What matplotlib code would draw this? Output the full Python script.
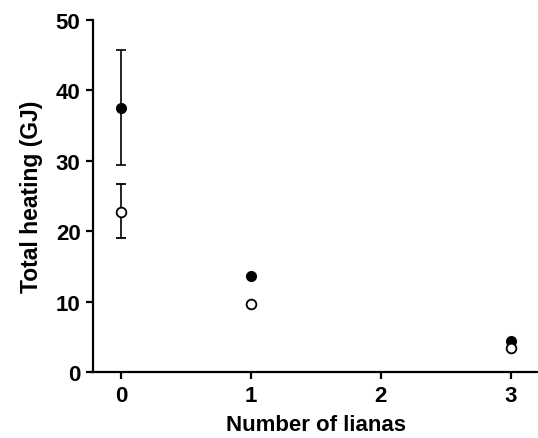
import matplotlib
matplotlib.use("Agg")
import matplotlib.pyplot as plt

# Number of lianas and total heating (GJ)
lianas = [0, 1, 3]
filled_mean = [37.5, 13.7, 4.4]
filled_err_low = [8.1, 0.0, 0.0]
filled_err_high = [8.3, 0.0, 0.0]
open_mean = [22.8, 9.7, 3.5]
open_err_low = [3.8, 0.0, 0.0]
open_err_high = [3.9, 0.0, 0.0]

plt.rcParams["font.family"] = ["Liberation Sans", "DejaVu Sans"]
plt.rcParams["font.weight"] = "bold"

fig = plt.figure(figsize=(5.38, 4.39), dpi=100)
ax = fig.add_axes([0.173, 0.150, 0.827, 0.802])

ax.errorbar(lianas, filled_mean, yerr=[filled_err_low, filled_err_high],
            fmt="o", color="black", markerfacecolor="black", markersize=7,
            ecolor="black", elinewidth=1.2, capsize=3.5, capthick=1.2, zorder=3)
ax.errorbar(lianas, open_mean, yerr=[open_err_low, open_err_high],
            fmt="o", color="black", markerfacecolor="white", markersize=7,
            markeredgewidth=1.3, ecolor="black", elinewidth=1.2, capsize=3.5,
            capthick=1.2, zorder=4)

ax.set_xlim(-0.215, 3.21)
ax.set_ylim(0, 50)
ax.set_xticks([0, 1, 2, 3])
ax.set_yticks([0, 10, 20, 30, 40, 50])

for side in ["top", "right"]:
    ax.spines[side].set_visible(False)
for side in ["left", "bottom"]:
    ax.spines[side].set_linewidth(1.6)

ax.tick_params(direction="out", length=5, width=1.6, labelsize=16, pad=4)
for lab in ax.get_xticklabels() + ax.get_yticklabels():
    lab.set_fontweight("bold")

ax.set_xlabel("Number of lianas", fontsize=16, fontweight="bold", labelpad=6)
ax.set_ylabel("Total heating (GJ)", fontsize=16.5, fontweight="bold", labelpad=9)

fig.savefig("out.png", dpi=100)
